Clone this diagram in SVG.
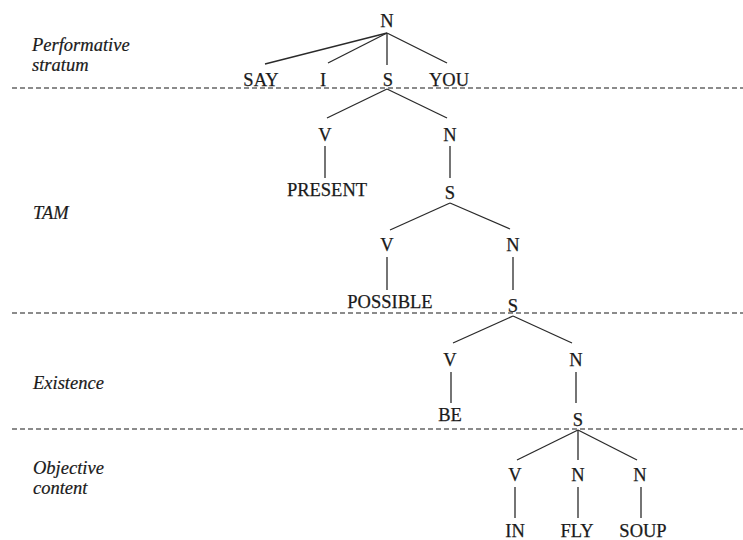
<svg xmlns="http://www.w3.org/2000/svg" width="743" height="540" viewBox="0 0 743 540">
<style>
.t{font-family:"Liberation Serif","Times New Roman",serif;font-size:18.5px;fill:#1a1a1a;stroke:#1a1a1a;stroke-width:0.25;text-anchor:middle}
.l{font-family:"Liberation Serif","Times New Roman",serif;font-size:18.5px;font-style:italic;fill:#1a1a1a;stroke:#1a1a1a;stroke-width:0.2}
.e{stroke:#2a2a2a;stroke-width:1.3;fill:none}
.d{stroke:#666;stroke-width:1.3;stroke-dasharray:5 3;fill:none}
</style>
<rect width="743" height="540" fill="#fff"/>
<g id="strata">
<line class="d" x1="12" y1="88" x2="743" y2="88"/>
<line class="d" x1="12" y1="313" x2="743" y2="313"/>
<line class="d" x1="12" y1="429" x2="743" y2="429"/>
<text class="l" x="32" y="51">Performative</text>
<text class="l" x="32" y="71">stratum</text>
<text class="l" x="33" y="219">TAM</text>
<text class="l" x="33" y="389">Existence</text>
<text class="l" x="33" y="474">Objective</text>
<text class="l" x="33" y="494">content</text>
</g>
<g id="connectors">
<line class="e" x1="387" y1="33" x2="265" y2="64"/>
<line class="e" x1="387" y1="33" x2="328" y2="63"/>
<line class="e" x1="387" y1="33" x2="387" y2="65"/>
<line class="e" x1="387" y1="33" x2="447" y2="63"/>
<line class="e" x1="387" y1="89" x2="327" y2="118"/>
<line class="e" x1="387" y1="89" x2="447" y2="118"/>
<line class="e" x1="325" y1="146" x2="325" y2="178"/>
<line class="e" x1="450" y1="146" x2="450" y2="178"/>
<line class="e" x1="450" y1="203" x2="390" y2="230"/>
<line class="e" x1="450" y1="203" x2="510" y2="229"/>
<line class="e" x1="387" y1="257" x2="387" y2="290"/>
<line class="e" x1="513" y1="257" x2="513" y2="290"/>
<line class="e" x1="513" y1="316" x2="453" y2="343"/>
<line class="e" x1="513" y1="316" x2="572" y2="343"/>
<line class="e" x1="451" y1="372" x2="451" y2="403"/>
<line class="e" x1="576" y1="372" x2="576" y2="403"/>
<line class="e" x1="578" y1="430" x2="517" y2="460"/>
<line class="e" x1="578" y1="430" x2="578" y2="460"/>
<line class="e" x1="578" y1="430" x2="637" y2="460"/>
<line class="e" x1="515" y1="487" x2="515" y2="518"/>
<line class="e" x1="578" y1="487" x2="578" y2="518"/>
<line class="e" x1="641" y1="487" x2="641" y2="518"/>
</g>
<g id="n-root"><text class="t" x="387" y="27">N</text></g>
<g id="n-say"><text class="t" x="261" y="86">SAY</text></g>
<g id="n-i"><text class="t" x="323" y="86">I</text></g>
<g id="n-s1"><text class="t" x="388" y="86">S</text></g>
<g id="n-you"><text class="t" x="449" y="86">YOU</text></g>
<g id="n-v1"><text class="t" x="325" y="141">V</text></g>
<g id="n-n1"><text class="t" x="450" y="141">N</text></g>
<g id="n-present"><text class="t" x="327" y="196">PRESENT</text></g>
<g id="n-s2"><text class="t" x="450" y="199">S</text></g>
<g id="n-v2"><text class="t" x="387" y="251">V</text></g>
<g id="n-n2"><text class="t" x="513" y="251">N</text></g>
<g id="n-possible"><text class="t" x="390" y="308">POSSIBLE</text></g>
<g id="n-s3"><text class="t" x="513" y="312">S</text></g>
<g id="n-v3"><text class="t" x="450" y="366">V</text></g>
<g id="n-n3"><text class="t" x="576" y="366">N</text></g>
<g id="n-be"><text class="t" x="450" y="421">BE</text></g>
<g id="n-s4"><text class="t" x="578" y="426">S</text></g>
<g id="n-v4"><text class="t" x="515" y="481">V</text></g>
<g id="n-n4"><text class="t" x="578" y="481">N</text></g>
<g id="n-n5"><text class="t" x="640" y="481">N</text></g>
<g id="n-in"><text class="t" x="515" y="537">IN</text></g>
<g id="n-fly"><text class="t" x="577" y="537">FLY</text></g>
<g id="n-soup"><text class="t" x="643" y="537">SOUP</text></g>
</svg>
